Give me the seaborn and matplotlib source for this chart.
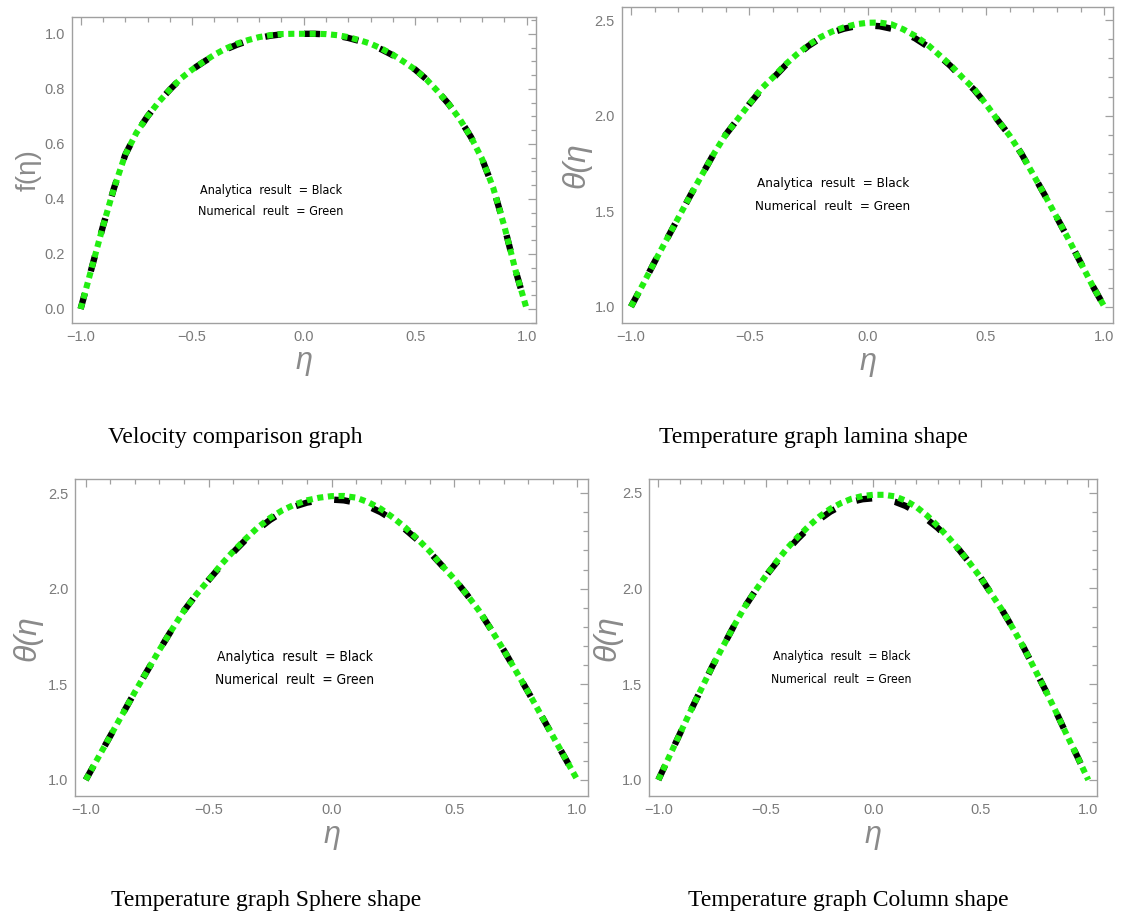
import matplotlib
matplotlib.use("Agg")
import matplotlib.pyplot as plt
from matplotlib.ticker import MultipleLocator
import seaborn as sns
import pandas as pd

# ---------------- data ----------------
eta = [-1.0, -0.95, -0.9, -0.85, -0.8, -0.75, -0.7, -0.65, -0.6, -0.55, -0.5,
       -0.45, -0.4, -0.35, -0.3, -0.25, -0.2, -0.15, -0.1, -0.05, 0.0,
       0.05, 0.1, 0.15, 0.2, 0.25, 0.3, 0.35, 0.4, 0.45, 0.5,
       0.55, 0.6, 0.65, 0.7, 0.75, 0.8, 0.85, 0.9, 0.95, 1.0]

velocity_analytic = [0.0, 0.15, 0.30, 0.44, 0.56, 0.64, 0.70, 0.752, 0.797, 0.838, 0.87,
                     0.897, 0.922, 0.943, 0.96, 0.974, 0.985, 0.993, 0.998, 1.0, 1.0,
                     1.0, 0.998, 0.993, 0.985, 0.974, 0.96, 0.943, 0.922, 0.897, 0.87,
                     0.835, 0.792, 0.745, 0.69, 0.625, 0.545, 0.44, 0.30, 0.14, 0.0]
velocity_numeric = [0.0, 0.15, 0.30, 0.44, 0.56, 0.64, 0.70, 0.752, 0.797, 0.838, 0.87,
                    0.898, 0.924, 0.946, 0.964, 0.977, 0.988, 0.995, 0.999, 1.0, 1.0,
                    1.0, 0.999, 0.995, 0.988, 0.977, 0.964, 0.946, 0.924, 0.898, 0.87,
                    0.835, 0.792, 0.745, 0.69, 0.625, 0.545, 0.44, 0.30, 0.14, 0.0]

lamina_analytic = [1.0, 1.115, 1.235, 1.35, 1.465, 1.58, 1.69, 1.80, 1.90, 1.98, 2.06,
                   2.135, 2.195, 2.26, 2.315, 2.365, 2.405, 2.435, 2.455, 2.468, 2.472,
                   2.468, 2.455, 2.435, 2.405, 2.365, 2.315, 2.26, 2.195, 2.135, 2.06,
                   1.975, 1.895, 1.80, 1.69, 1.58, 1.465, 1.35, 1.23, 1.11, 1.0]
lamina_numeric = [1.0, 1.115, 1.235, 1.35, 1.465, 1.58, 1.69, 1.80, 1.90, 1.98, 2.06,
                  2.14, 2.20, 2.265, 2.32, 2.37, 2.41, 2.44, 2.462, 2.478, 2.486,
                  2.487, 2.478, 2.452, 2.418, 2.375, 2.32, 2.265, 2.20, 2.14, 2.06,
                  1.975, 1.895, 1.80, 1.69, 1.58, 1.465, 1.35, 1.23, 1.11, 1.0]

sphere_analytic = [1.0, 1.115, 1.23, 1.345, 1.46, 1.57, 1.68, 1.785, 1.885, 1.97, 2.045,
                   2.12, 2.19, 2.255, 2.31, 2.36, 2.40, 2.43, 2.45, 2.462, 2.466,
                   2.462, 2.45, 2.43, 2.40, 2.36, 2.31, 2.255, 2.19, 2.12, 2.05,
                   1.97, 1.885, 1.785, 1.68, 1.57, 1.46, 1.345, 1.23, 1.115, 1.0]
sphere_numeric = [1.0, 1.115, 1.23, 1.345, 1.46, 1.57, 1.68, 1.785, 1.885, 1.97, 2.045,
                  2.125, 2.195, 2.26, 2.32, 2.37, 2.41, 2.44, 2.462, 2.476, 2.484,
                  2.485, 2.476, 2.452, 2.418, 2.372, 2.32, 2.26, 2.195, 2.12, 2.05,
                  1.97, 1.885, 1.785, 1.68, 1.57, 1.46, 1.345, 1.23, 1.115, 1.0]

column_analytic = [1.0, 1.12, 1.24, 1.36, 1.475, 1.59, 1.695, 1.80, 1.90, 1.985, 2.065,
                   2.135, 2.20, 2.26, 2.315, 2.36, 2.40, 2.43, 2.452, 2.465, 2.47,
                   2.465, 2.452, 2.43, 2.40, 2.36, 2.315, 2.26, 2.20, 2.13, 2.055,
                   1.97, 1.885, 1.79, 1.69, 1.58, 1.47, 1.355, 1.235, 1.12, 1.0]
column_numeric = [1.0, 1.12, 1.24, 1.36, 1.475, 1.59, 1.695, 1.80, 1.90, 1.985, 2.065,
                  2.14, 2.21, 2.27, 2.325, 2.375, 2.415, 2.445, 2.468, 2.482, 2.488,
                  2.488, 2.48, 2.458, 2.425, 2.38, 2.325, 2.265, 2.20, 2.13, 2.055,
                  1.97, 1.885, 1.79, 1.69, 1.58, 1.47, 1.355, 1.235, 1.12, 1.0]

captions = ["Velocity comparison graph", "Temperature graph lamina shape",
            "Temperature graph Sphere shape", "Temperature graph Column shape"]
ylabels = ["f(η)", "θ(η", "θ(η", "θ(η"]
note_lines = ["Analytica  result  = Black", "Numerical  reult  = Green"]

series = [(velocity_analytic, velocity_numeric),
          (lamina_analytic, lamina_numeric),
          (sphere_analytic, sphere_numeric),
          (column_analytic, column_numeric)]

# ---------------- figure ----------------
sns.set_style("white")
plt.rcParams['font.family'] = ['Liberation Sans', 'DejaVu Sans']

W, H = 1125, 915
fig = plt.figure(figsize=(W / 100, H / 100), dpi=100)

# axes boxes in pixel coords: left, right, top, bottom
boxes = [(71.7, 535.6, 17.3, 322.7), (621.7, 1113.4, 6.7, 322.8),
         (75.4, 588.4, 479.3, 796.0), (649.3, 1097.3, 479.3, 796.0)]
xlims = [(-1.040, 1.040), (-1.039, 1.038), (-1.042, 1.045), (-1.042, 1.042)]
ylims = [(-0.050, 1.060), (0.916, 2.570), (0.916, 2.572), (0.916, 2.569)]
note_y = [(0.432, 0.354), (1.645, 1.523), (1.645, 1.523), (1.645, 1.523)]
note_size = [9.0, 9.6, 9.95, 8.7]
cap_pos = [(235, 443), (813, 443), (266, 906), (848, 906)]

gray = '#8a8a8a'
green = '#22ee11'
note_font = dict(family=['DejaVu Sans'], fontstretch='condensed')

for i, (l, r, t, b) in enumerate(boxes):
    ax = fig.add_axes([l / W, 1 - b / H, (r - l) / W, (b - t) / H])
    ana, num = series[i]
    df = pd.DataFrame({"eta": eta, "analytic": ana, "numeric": num})
    sns.lineplot(data=df, x="eta", y="analytic", ax=ax, color='black',
                 lw=4.6, linestyle=(0, (2.5, 3.6)), dash_capstyle='butt')
    sns.lineplot(data=df, x="eta", y="numeric", ax=ax, color=green,
                 lw=4.4, linestyle=(0, (1.0, 0.75)), dash_capstyle='butt')
    ax.set_xlim(*xlims[i])
    ax.set_ylim(*ylims[i])
    ax.set_xticks([-1.0, -0.5, 0.0, 0.5, 1.0])
    ax.xaxis.set_minor_locator(MultipleLocator(0.1))
    if i == 0:
        ax.set_yticks([0.0, 0.2, 0.4, 0.6, 0.8, 1.0])
        ax.yaxis.set_minor_locator(MultipleLocator(0.05))
    else:
        ax.set_yticks([1.0, 1.5, 2.0, 2.5])
        ax.yaxis.set_minor_locator(MultipleLocator(0.1))
    ax.set_xticklabels(["−1.0", "−0.5", "0.0", "0.5", "1.0"])
    ax.tick_params(which='both', direction='in', top=True, right=True,
                   color='#a0a0a0', width=0.9, labelcolor='#7a7a7a',
                   labelsize=10.5, pad=5)
    ax.tick_params(which='major', length=6)
    ax.tick_params(which='minor', length=3.5)
    for s in ax.spines.values():
        s.set_color('#a0a0a0')
        s.set_linewidth(1.0)

    ax.set_xlabel("η", fontsize=22, color=gray, style='italic')
    ax.xaxis.label.set_verticalalignment('center')
    ax.xaxis.set_label_coords(0.5, -0.124)
    if i == 0:
        ax.set_ylabel(ylabels[i], fontsize=20, color=gray)
    else:
        ax.set_ylabel(ylabels[i], fontsize=23, color=gray, style='italic')
    ax.yaxis.label.set_verticalalignment('center')
    ax.yaxis.set_label_coords(-0.093, 0.5)

    y1, y2 = note_y[i]
    ax.text(-0.147, y1, note_lines[0], ha='center', va='center',
            fontsize=note_size[i], color='black', **note_font)
    ax.text(-0.150, y2, note_lines[1], ha='center', va='center',
            fontsize=note_size[i], color='black', **note_font)

    cx, cy = cap_pos[i]
    fig.text(cx / W, 1 - cy / H, captions[i], ha='center', va='baseline',
             fontsize=17, family=['Liberation Serif'], color='black')

fig.savefig("out.png", dpi=100)
